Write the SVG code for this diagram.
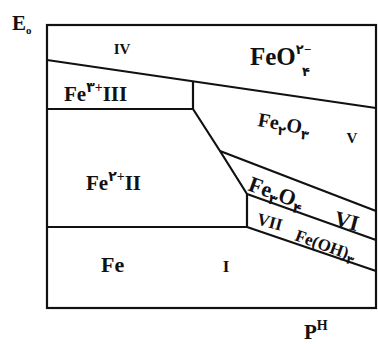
<svg xmlns="http://www.w3.org/2000/svg" width="378" height="344" viewBox="0 0 378 344">
<style>
.ln{fill:none;stroke:#111;stroke-width:2.2;stroke-linejoin:miter}
.t{font-family:"Liberation Serif","DejaVu Serif","DejaVu Sans",serif;font-weight:bold;fill:#111}
</style>
<rect width="378" height="344" fill="#fff"/>
<g id="connectors">
<rect class="ln" x="47" y="25" width="329" height="283"/>
<polyline class="ln" points="47,60 376,108"/>
<polyline class="ln" points="193,81.5 193,109"/>
<polyline class="ln" points="47,109 193,109 220,151 247,194 247,227 47,227"/>
<polyline class="ln" points="220,151 376,211"/>
<polyline class="ln" points="247,194 376,240"/>
<polyline class="ln" points="247,227 376,271"/>
</g>
<g id="axis-e"><text class="t" x="12" y="30" font-size="21">E<tspan font-size="11" dy="4">o</tspan></text></g>
<g id="axis-ph"><text class="t" x="304" y="339" font-size="21">P<tspan font-size="14" dy="-9">H</tspan></text></g>
<g id="region-iv"><text class="t" x="122" y="54" font-size="15" text-anchor="middle">IV</text></g>
<g id="region-feo4"><text class="t" x="250" y="65" font-size="25">FeO<tspan font-size="13" dy="-11">۲−</tspan></text>
<text class="t" x="302" y="76" font-size="13">۴</text></g>
<g id="region-iii"><text class="t" x="64" y="101" font-size="21">Fe<tspan font-size="14" dy="-9">۳+</tspan><tspan font-size="21" dy="9">III</tspan></text></g>
<g id="region-ii"><text class="t" x="86" y="190" font-size="21">Fe<tspan font-size="14" dy="-9">۲+</tspan><tspan font-size="21" dy="9">II</tspan></text></g>
<g id="region-v"><text class="t" x="257" y="126" font-size="20" transform="rotate(10 257 126)">Fe<tspan font-size="13" dy="5">۲</tspan><tspan font-size="20" dy="-5">O</tspan><tspan font-size="13" dy="5">۳</tspan></text>
<text class="t" x="352" y="143" font-size="15" text-anchor="middle">V</text></g>
<g id="region-vi"><text class="t" x="247" y="190" font-size="22" transform="rotate(20 247 190)">Fe<tspan font-size="14" dy="5">۳</tspan><tspan font-size="22" dy="-5">O</tspan><tspan font-size="14" dy="5">۴</tspan></text>
<text class="t" x="333" y="225" font-size="22" transform="rotate(15 333 225)">VI</text></g>
<g id="region-vii"><text class="t" x="256" y="224" font-size="17" transform="rotate(15 256 224)">VII</text>
<text class="t" x="294" y="240" font-size="17" transform="rotate(20 294 240)">Fe(OH)<tspan font-size="12" dy="4">۳</tspan></text></g>
<g id="region-fe"><text class="t" x="101" y="272" font-size="22">Fe</text></g>
<g id="region-i"><text class="t" x="226" y="272" font-size="17" text-anchor="middle">I</text></g>
</svg>
